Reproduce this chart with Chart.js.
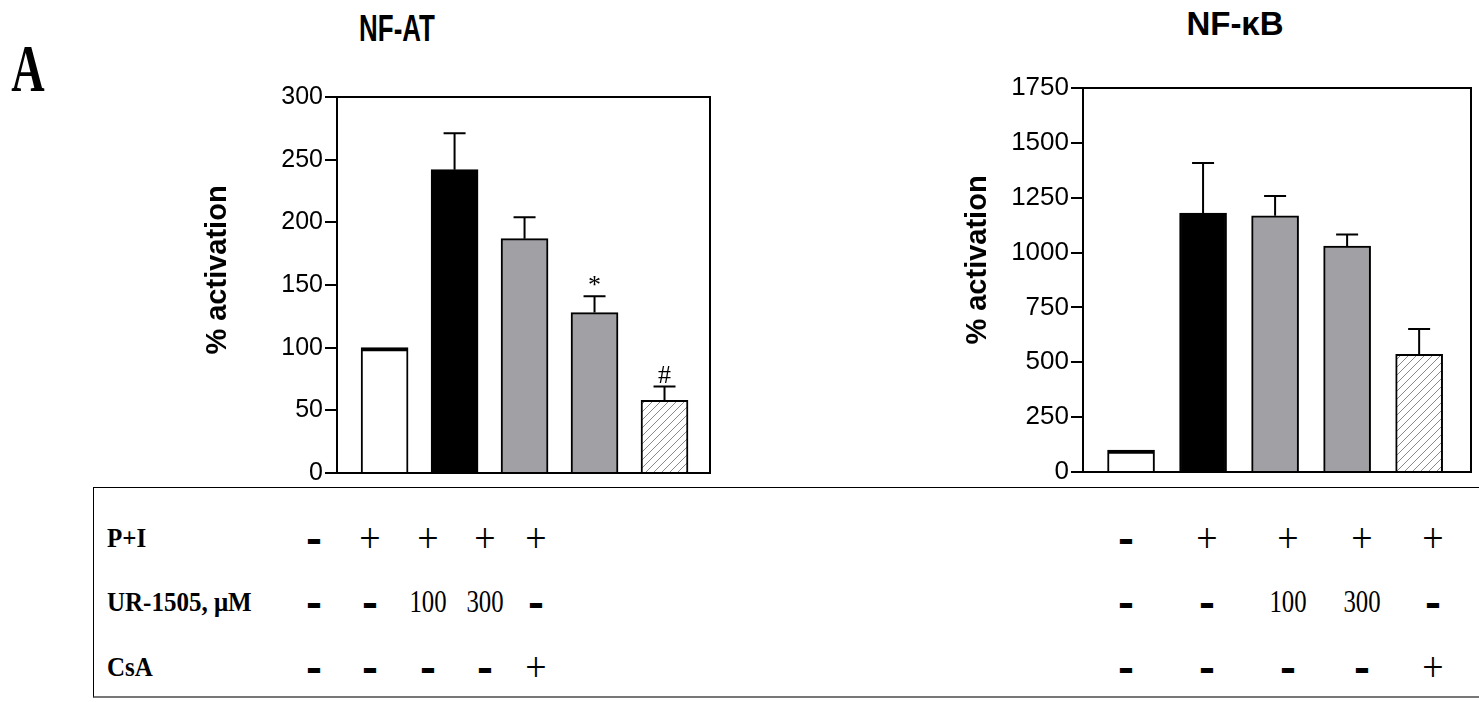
<!DOCTYPE html>
<html>
<head>
<meta charset="utf-8">
<script src="https://cdn.jsdelivr.net/npm/chart.js@4.4.1/dist/chart.umd.min.js"></script>
<style>
  body { margin: 0; background: #fff; width: 1479px; height: 702px; overflow: hidden; position: relative; }
  .abs { position: absolute; }
  .c { transform: translate(-50%, -50%); white-space: nowrap; color: #000; }
  #panel { left: 93px; top: 487px; width: 1400px; height: 208px; border-top: 1.5px solid #000; border-left: 1.5px solid #000; border-bottom: 2px solid #777; }
  .title { font-family: "Liberation Sans", Arial, sans-serif; font-weight: bold; }
  .rowlab { font-family: "Liberation Serif", "Times New Roman", serif; font-weight: bold; font-size: 25px; transform: translateY(-50%) scaleY(1.1); transform-origin: left center; }
  .sym { font-family: "Liberation Serif", "Times New Roman", serif; font-size: 31px; transform: translate(-50%, -50%) scaleX(0.8); }
  .plus { font-family: "Liberation Serif", "Times New Roman", serif; font-size: 42px; transform: translate(-50%, -50%) scaleX(0.9); }
  .dash { font-family: "Liberation Sans", Arial, sans-serif; font-weight: bold; font-size: 48px; transform: translate(-50%, -50%) scaleY(0.9); }
</style>
</head>
<body>
<div id="panel" class="abs"></div>
<div class="abs c" style="left:28px;top:68px;font-family:'Liberation Serif',serif;font-weight:bold;font-size:68px;transform:translate(-50%,-50%) scaleX(0.68);">A</div>
<div class="abs c title" style="left:397px;top:29px;font-size:36px;transform:translate(-50%,-50%) scaleX(0.72);">NF-AT</div>
<div class="abs c title" style="left:1235px;top:24px;font-size:33px;">NF-κB</div>
<canvas id="nfat" class="abs" style="left:190px;top:80px;"></canvas>
<canvas id="nfkb" class="abs" style="left:950px;top:70px;"></canvas>
<div id="table"></div>
<script>
const groups = ['Control', 'P+I', 'P+I + UR-1505 100', 'P+I + UR-1505 300', 'P+I + CsA'];

const nfatValues = [100, 242, 187, 128, 58];
const nfatErrors = [0, 29, 17, 13, 11];
const nfatMarks = ['', '', '', '*', '#'];
const nfatTicks = [0, 50, 100, 150, 200, 250, 300];

const nfkbValues = [100, 1180, 1168, 1030, 536];
const nfkbErrors = [0, 228, 90, 52, 116];
const nfkbMarks = ['', '', '', '', ''];
const nfkbTicks = [0, 250, 500, 750, 1000, 1250, 1500, 1750];

const rowLabels = ['P+I', 'UR-1505, μM', 'CsA'];
const rowPI = ['-', '+', '+', '+', '+'];
const rowUR = ['-', '-', '100', '300', '-'];
const rowCsA = ['-', '-', '-', '-', '+'];

// hatch for the CsA bar
function hatch() {
  const p = document.createElement('canvas');
  p.width = 8; p.height = 8;
  const g = p.getContext('2d');
  g.fillStyle = '#fff';
  g.fillRect(0, 0, 8, 8);
  g.strokeStyle = '#8a8a8a';
  g.lineWidth = 1;
  g.beginPath();
  g.moveTo(0, 8); g.lineTo(8, 0);
  g.moveTo(-2, 2); g.lineTo(2, -2);
  g.moveTo(6, 10); g.lineTo(10, 6);
  g.stroke();
  return g.createPattern(p, 'repeat');
}

const fills = ['#ffffff', '#000000', '#a1a1a5', '#a1a1a5', hatch()];

const extras = {
  id: 'extras',
  afterDatasetsDraw(chart, args, opts) {
    const ctx = chart.ctx;
    const y = chart.scales.y;
    const bars = chart.getDatasetMeta(0).data;
    ctx.save();
    ctx.strokeStyle = '#000';
    ctx.lineWidth = 2;
    bars.forEach((b, i) => {
      const err = opts.errors[i];
      const top = y.getPixelForValue(opts.values[i] + err);
      if (err > 0) {
        ctx.beginPath();
        ctx.moveTo(b.x, b.y);
        ctx.lineTo(b.x, top);
        ctx.moveTo(b.x - 11, top);
        ctx.lineTo(b.x + 11, top);
        ctx.stroke();
      }
      if (opts.marks[i]) {
        ctx.fillStyle = '#000';
        ctx.font = '26px "Liberation Serif", serif';
        ctx.textAlign = 'center';
        ctx.textBaseline = 'alphabetic';
        ctx.fillText(opts.marks[i], b.x, top - (opts.marks[i] === '*' ? 3 : 4));
      }
    });
    // frame
    const a = chart.chartArea;
    ctx.lineWidth = 2;
    ctx.strokeRect(a.left, a.top, a.right - a.left, a.bottom - a.top);
    // axis title
    ctx.translate(opts.titleX, opts.titleY);
    ctx.rotate(-Math.PI / 2);
    ctx.font = 'bold 29px "Liberation Sans", Arial, sans-serif';
    ctx.textAlign = 'center';
    ctx.textBaseline = 'middle';
    ctx.fillText('% activation', 0, 0);
    ctx.restore();
  }
};

function makeChart(id, w, h, values, errors, marks, ticks, axisW, pad, xr, tickSize, titlePos) {
  const cv = document.getElementById(id);
  cv.style.width = w + 'px';
  cv.style.height = h + 'px';
  return new Chart(cv, {
    type: 'bar',
    data: {
      datasets: [{
        label: id,
        data: values.map((v, i) => ({ x: i, y: v })),
        backgroundColor: fills,
        borderColor: '#000',
        borderWidth: c => c.dataIndex === 0 ? { top: 4, left: 2, right: 2, bottom: 0 } : 2,
        borderSkipped: 'bottom',
        barThickness: 47
      }]
    },
    options: {
      responsive: false,
      animation: false,
      devicePixelRatio: 1,
      layout: { padding: pad },
      plugins: {
        legend: { display: false },
        tooltip: { enabled: false },
        extras: { values, errors, marks, titleX: titlePos[0], titleY: titlePos[1] }
      },
      scales: {
        x: { type: 'linear', min: xr[0], max: xr[1], offset: false, display: false },
        y: {
          min: ticks[0],
          max: ticks[ticks.length - 1],
          afterBuildTicks: s => { s.ticks = ticks.map(v => ({ value: v })); },
          afterFit: s => { s.width = axisW; },
          border: { display: false },
          grid: { drawOnChartArea: false, drawTicks: true, tickLength: 12, color: '#000', lineWidth: 2 },
          ticks: {
            color: '#000', padding: 2,
            callback: v => String(v),
            font: { family: '"Liberation Sans", Arial, sans-serif', size: tickSize }
          }
        }
      }
    },
    plugins: [extras]
  });
}

makeChart('nfat', 525, 410, nfatValues, nfatErrors, nfatMarks, nfatTicks, 147,
  { top: 15, right: 5, bottom: 13, left: 0 }, [-0.68, 4.65], 25, [28, 190]);
makeChart('nfkb', 528, 420, nfkbValues, nfkbErrors, nfkbMarks, nfkbTicks, 133,
  { top: 18, right: 7, bottom: 18, left: 0 }, [-0.667, 4.72], 26, [28, 190]);

// treatment table under the bars
const table = document.getElementById('table');
const rowY = [538, 602, 667];
const colsLeft = [314, 370, 428, 485, 536];
const colsRight = [1126, 1207, 1288, 1362, 1433];
const rows = [rowPI, rowUR, rowCsA];

function put(cls, text, x, y) {
  const d = document.createElement('div');
  d.className = 'abs ' + cls;
  d.textContent = text;
  d.style.left = x + 'px';
  d.style.top = y + 'px';
  table.appendChild(d);
}

rowLabels.forEach((lab, r) => put('rowlab', lab, 107, rowY[r]));
rows.forEach((row, r) => {
  row.forEach((t, i) => {
    const cls = t === '-' ? 'c dash' : t === '+' ? 'c plus' : 'c sym';
    put(cls, t, colsLeft[i], rowY[r]);
    put(cls, t, colsRight[i], rowY[r]);
  });
});
</script>
</body>
</html>
